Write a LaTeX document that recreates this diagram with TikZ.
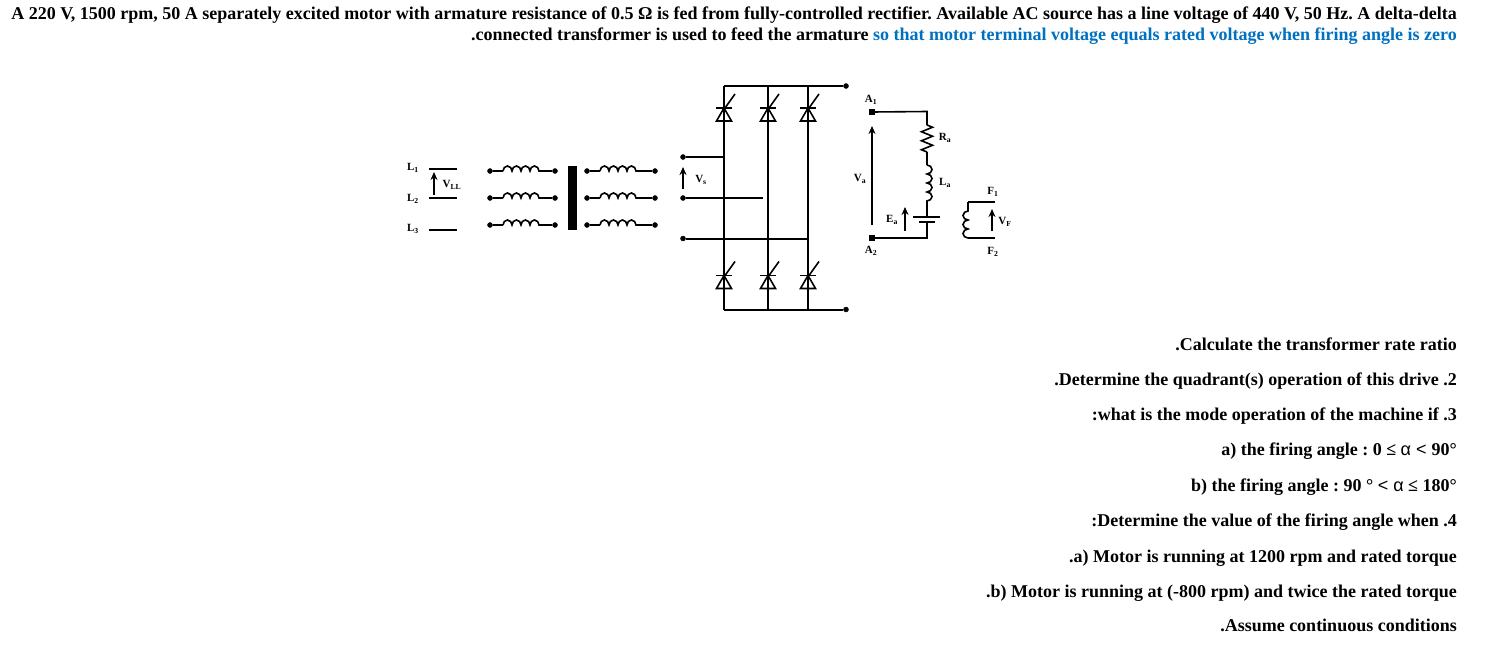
\documentclass[tikz,border=0pt]{standalone}
\usepackage{fontspec}
\setmainfont{Liberation Serif}
\newfontfamily\alphafont{Liberation Sans}
\usepackage{tikz}
\usetikzlibrary{arrows.meta}
\usetikzlibrary{decorations.pathmorphing}
\definecolor{q_blue}{RGB}{0, 112, 192}
\frenchspacing
\tikzstyle{dotn}=[circle,fill=black,draw=black,inner sep=0pt,minimum size=5pt]
\tikzstyle{sqn}=[rectangle,fill=black,draw=black,inner sep=0pt,minimum size=5pt]
\tikzstyle{wire}=[line width=2pt]
\tikzstyle{thinw}=[line width=1.6pt]
\tikzstyle{txt}=[anchor=base east,inner sep=0pt,font=\fontsize{18}{20}\selectfont\bfseries]
\tikzstyle{lab}=[inner sep=0pt,font=\fontsize{11}{12}\selectfont\bfseries]
\tikzstyle{hump}=[thinw,decorate,decoration={bumps,segment length=18pt,amplitude=5pt}]
\tikzstyle{zig}=[thinw,decorate,decoration={zigzag,segment length=9pt,amplitude=5.5pt}]
\tikzstyle{varr}=[line width=1.5pt,-{Stealth[length=8pt,width=7pt]}]
\tikzset{
  pics/scrtop/.style={code={
    \draw[thinw] (-8,0) -- (8,0);
    \draw[thinw] (0,0) -- (-7.5,13) -- (7.5,13) -- cycle;
    \draw[thinw] (1,0) -- (11,-14);
  }}
}
\begin{document}
\begin{tikzpicture}[x=1pt,y=-1pt]
    \useasboundingbox (0,0) rectangle (1491,654);
    % question text
    \node [style=txt] (line1) at (1457,19) {A 220 V, 1500 rpm, 50 A separately excited motor with armature resistance of 0.5 Ω is fed from fully-controlled rectifier. Available AC source has a line voltage of 440 V, 50 Hz. A delta-delta};
    \node [style=txt] (line2) at (1457,40) {.connected transformer is used to feed the armature \textcolor{q_blue}{so that motor terminal voltage equals rated voltage when firing angle is zero}};
    \node [style=txt] (q1) at (1457,350) {.Calculate the transformer rate ratio};
    \node [style=txt] (q2) at (1457,385) {.Determine the quadrant(s) operation of this drive .2};
    \node [style=txt] (q3) at (1457,420) {:what is the mode operation of the machine if .3};
    \node [style=txt] (q3a) at (1457,455) {a) the firing angle : 0 ≤ {\alphafont\mdseries α < }90°};
    \node [style=txt] (q3b) at (1457,491) {b) the firing angle : 90 ° {\alphafont\mdseries < α} ≤ 180°};
    \node [style=txt] (q4) at (1457,526) {:Determine the value of the firing angle when .4};
    \node [style=txt] (q4a) at (1457,562) {.a) Motor is running at 1200 rpm and rated torque};
    \node [style=txt] (q4b) at (1457,597) {.b) Motor is running at (-800 rpm) and twice the rated torque};
    \node [style=txt] (assume) at (1457,631) {.Assume continuous conditions};

    % supply lines
    \node [style=lab] (l1) at (413,168) {L\textsubscript{1}};
    \node [style=lab] (l2) at (413,199) {L\textsubscript{2}};
    \node [style=lab] (l3) at (413,229) {L\textsubscript{3}};
    \coordinate (l1a) at (429,168.5);
    \coordinate (l1b) at (457,168.5);
    \coordinate (l2a) at (429,198);
    \coordinate (l2b) at (457,198);
    \coordinate (l3a) at (429,230);
    \coordinate (l3b) at (457,230);
    \draw [style=wire] (l1a) to (l1b);
    \draw [style=wire] (l2a) to (l2b);
    \draw [style=wire] (l3a) to (l3b);
    \coordinate (vllb) at (434,195);
    \coordinate (vllt) at (434,172);
    \draw [style=varr] (vllb) to (vllt);
    \node [style=lab] (vll) at (452,185) {V\textsubscript{LL}};

    % transformer
    \node [style=dotn] (pa1) at (490,171) {};
    \node [style=dotn] (pb1) at (555,171) {};
    \node [style=dotn] (pa2) at (490,198) {};
    \node [style=dotn] (pb2) at (555,198) {};
    \node [style=dotn] (pa3) at (490,225) {};
    \node [style=dotn] (pb3) at (555,225) {};
    \node [style=dotn] (sa1) at (587,171) {};
    \node [style=dotn] (sb1) at (655,171) {};
    \node [style=dotn] (sa2) at (587,198) {};
    \node [style=dotn] (sb2) at (655,198) {};
    \node [style=dotn] (sa3) at (587,225) {};
    \node [style=dotn] (sb3) at (655,225) {};
    \draw [style=thinw] (pa1) -- (503,171) (545,171) -- (pb1);
    \draw [style=thinw] (pa2) -- (503,198) (545,198) -- (pb2);
    \draw [style=thinw] (pa3) -- (503,225) (545,225) -- (pb3);
    \draw [style=thinw] (sa1) -- (600,171) (640,171) -- (sb1);
    \draw [style=thinw] (sa2) -- (600,198) (640,198) -- (sb2);
    \draw [style=thinw] (sa3) -- (600,225) (640,225) -- (sb3);
    \draw [style=hump] (503,171) -- (545,171);
    \draw [style=hump] (503,198) -- (545,198);
    \draw [style=hump] (503,225) -- (545,225);
    \draw [style=hump] (600,171) -- (640,171);
    \draw [style=hump] (600,198) -- (640,198);
    \draw [style=hump] (600,225) -- (640,225);
    \node [fill=black,inner sep=0pt,minimum width=9pt,minimum height=64pt] (core) at (572.5,198) {};

    % rectifier
    \node [style=dotn] (va) at (683,157) {};
    \node [style=dotn] (vb) at (683,198) {};
    \node [style=dotn] (vc) at (683,238.5) {};
    \node [style=dotn] (dcp) at (846,86) {};
    \node [style=dotn] (dcn) at (846,309.5) {};
    \coordinate (t1) at (724,86);
    \coordinate (t2) at (768,86);
    \coordinate (t3) at (808,86);
    \coordinate (b1) at (724,309.5);
    \coordinate (b2) at (768,309.5);
    \coordinate (b3) at (808,309.5);
    \coordinate (ja) at (724,157);
    \coordinate (jb) at (763,198);
    \coordinate (jc) at (808,238.5);
    \draw [style=wire] (t1) to (dcp);
    \draw [style=wire] (b1) to (dcn);
    \draw [style=wire] (t1) to (b1);
    \draw [style=wire] (t2) to (b2);
    \draw [style=wire] (t3) to (b3);
    \draw [style=wire] (va) to (ja);
    \draw [style=wire] (vb) to (jb);
    \draw [style=wire] (vc) to (jc);
    \pic at (724,108) {scrtop};
    \pic at (768,108) {scrtop};
    \pic at (808,108) {scrtop};
    \pic at (724,275.5) {scrtop};
    \pic at (768,275.5) {scrtop};
    \pic at (808,275.5) {scrtop};
    \coordinate (vsb) at (683,189);
    \coordinate (vst) at (683,167);
    \draw [style=varr] (vsb) to (vst);
    \node [style=lab] (vs) at (701,180) {V\textsubscript{s}};

    % armature circuit
    \node [style=sqn] (a1) at (872,112) {};
    \node [style=sqn] (a2) at (872,238) {};
    \node [style=lab] (a1l) at (871,100) {A\textsubscript{1}};
    \node [style=lab] (a2l) at (871,251) {A\textsubscript{2}};
    \coordinate (rt) at (927,111.5);
    \coordinate (ra) at (927,125);
    \coordinate (rb) at (927,152);
    \coordinate (la) at (927,165);
    \coordinate (lb) at (927,203);
    \coordinate (plt) at (927,217);
    \coordinate (plb) at (927,222);
    \coordinate (rbt) at (927,238);
    \draw [style=thinw] (a1) -- (rt) -- (ra);
    \draw [style=zig] (ra) to (rb);
    \draw [style=thinw] (rb) to (la);
    \draw [style=hump] (la) to (lb);
    \draw [style=thinw] (lb) to (plt);
    \draw [style=wire] (913,217) -- (940,217);
    \draw [style=wire] (919,222) -- (935,222);
    \draw [style=thinw] (plb) -- (rbt) -- (a2);
    \coordinate (vab) at (872,225);
    \coordinate (vat) at (872,126);
    \draw [style=varr] (vab) to (vat);
    \coordinate (eab) at (905,231);
    \coordinate (eat) at (905,207);
    \draw [style=varr] (eab) to (eat);
    \node [style=lab] (val) at (860,179) {V\textsubscript{a}};
    \node [style=lab] (ral) at (945,138) {R\textsubscript{a}};
    \node [style=lab] (lal) at (945,183) {L\textsubscript{a}};
    \node [style=lab] (eal) at (892,220) {E\textsubscript{a}};

    % field winding
    \coordinate (f1) at (995,202);
    \coordinate (f2) at (995,238);
    \coordinate (fa) at (968,202);
    \coordinate (fb) at (968,238);
    \draw [style=thinw] (f1) to (fa);
    \draw [style=thinw] (fb) to (f2);
    \draw [style=hump] (fb) to (fa);
    \coordinate (vfb) at (992,231);
    \coordinate (vft) at (992,209);
    \draw [style=varr] (vfb) to (vft);
    \node [style=lab] (f1l) at (993,192) {F\textsubscript{1}};
    \node [style=lab] (f2l) at (993,252) {F\textsubscript{2}};
    \node [style=lab] (vfl) at (1005,222) {V\textsubscript{F}};
\end{tikzpicture}
\end{document}
